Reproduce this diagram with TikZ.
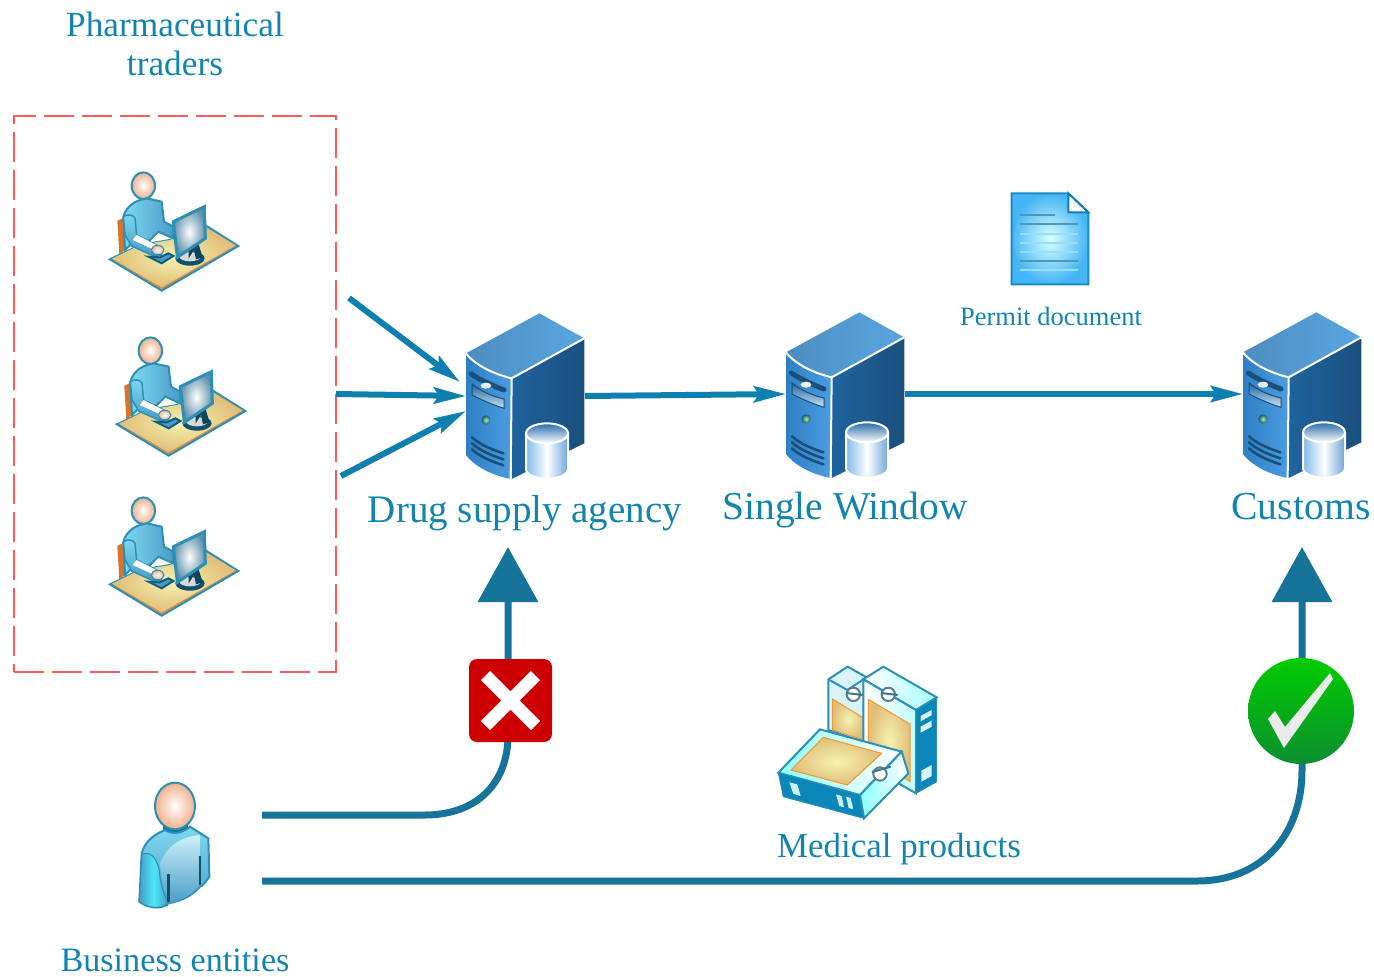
\documentclass[tikz,border=0pt]{standalone}
\usepackage{fontspec}
\setmainfont{Liberation Serif}
\usetikzlibrary{arrows.meta}
\definecolor{txt}{HTML}{1284B0}
\definecolor{flow}{HTML}{0E80B0}
\definecolor{route}{HTML}{16749A}
\definecolor{edge}{HTML}{2C8FB5}
\definecolor{svtop}{HTML}{5AA6E2}
\definecolor{svfrontA}{HTML}{2F7FC6}
\definecolor{svfrontB}{HTML}{4C9CE0}
\definecolor{svsideA}{HTML}{1F639E}
\definecolor{svsideB}{HTML}{1A4F7C}
\definecolor{skin}{HTML}{F0B08C}
\definecolor{tan}{HTML}{F6F2B0}
\definecolor{tanB}{HTML}{E0BE78}
\definecolor{shirt}{HTML}{7FD8F0}
\definecolor{shirtB}{HTML}{4A9CC8}
\definecolor{boxblue}{HTML}{0A86B8}
\definecolor{docblue}{HTML}{45B5F5}
\definecolor{chair}{HTML}{D9752B}
\definecolor{greenA}{HTML}{00CC00}
\definecolor{greenB}{HTML}{0C8F30}
\tikzset{
  x=1pt,y=-1pt,
  lbl/.style={text=txt,inner sep=0pt,align=center,font=\fontsize{#1}{39}\selectfont},
  slot/.style={inner sep=0pt,outer sep=0pt},
  flowline/.style={draw=flow,line width=6pt,-{Stealth[length=32pt,width=16pt,inset=5pt]}},
  routeline/.style={draw=route,line width=7pt,-{Triangle[length=55pt,width=59pt]}},
  serverpic/.pic={
    \begin{scope}[scale=1/3]
      \shade[left color=svtop!85!black,right color=svtop] (48,160) -- (268,40) -- (403,115) -- (185,235) .. controls (130,222) and (75,195) .. cycle;
      \shade[left color=svsideA,right color=svsideB] (185,235) -- (403,115) -- (403,430) -- (185,537) -- cycle;
      \shade[left color=svfrontA,right color=svfrontB] (48,160) .. controls (75,195) and (130,222) .. (185,235) -- (182,537) .. controls (120,525) and (70,495) .. (48,465) -- cycle;
      \draw[white,line width=2pt] (48,160) .. controls (75,195) and (130,222) .. (185,235) -- (403,115);
      \draw[white,line width=2pt] (185,235) -- (182,537);
      \draw[svsideB,line width=5pt,line cap=round] (64,222) .. controls (90,240) and (130,258) .. (162,270);
      \fill[white!85!svtop] (108,257) ellipse [x radius=16,y radius=9];
      \shade[top color=svsideA,bottom color=white!70!svtop,draw=svsideB,line width=1pt] (66,252) .. controls (95,275) and (130,290) .. (162,297) -- (162,325) .. controls (130,315) and (95,300) .. (66,285) -- cycle;
      \shade[inner color=white!60!green,outer color=svsideB] (108,360) circle (14);
      \draw[svsideB,line width=2.6pt,line cap=round] (66,412) .. controls (90,435) and (130,450) .. (160,460);
      \draw[svsideB,line width=2.6pt,line cap=round] (66,430) .. controls (90,453) and (130,468) .. (160,478);
      \draw[svsideB,line width=2.6pt,line cap=round] (66,448) .. controls (90,471) and (130,486) .. (160,496);
      \shade[left color=svfrontB!70!white,right color=svfrontA!70!white,middle color=white,draw=white,line width=2pt] (228,400) -- (228,510) .. controls (240,545) and (342,545) .. (354,510) -- (354,400) -- cycle;
      \shade[top color=svfrontA!85!black,bottom color=white,draw=white,line width=2pt] (291,400) ellipse [x radius=63,y radius=30];
    \end{scope}
  },
  workerpic/.pic={
    \begin{scope}[scale=1/3]
      \fill[chair] (82,182) -- (105,172) -- (112,262) -- (88,285) -- cycle;
      \draw[edge,line width=2pt,fill=chair!70!tanB] (60,298) -- (215,392) -- (445,258) -- (345,195) -- (240,240) -- (150,255) -- cycle;
      \shade[inner color=tan,outer color=tanB] (66,296) -- (215,382) -- (437,256) -- (345,200) -- (240,240) -- (150,255) -- cycle;
      \shade[left color=shirt,right color=shirtB,draw=edge,line width=2pt] (100,170) .. controls (110,135) and (140,120) .. (170,115) -- (215,125) -- (222,185) -- (250,200) -- (250,235) -- (205,215) -- (180,240) -- (125,250) -- (105,270) -- cycle;
      \shade[top color=shirt,bottom color=shirtB,draw=edge,line width=1.5pt] (100,170) .. controls (115,160) and (130,165) .. (135,175) -- (140,225) -- (205,258) -- (215,285) -- (185,285) -- (125,258) -- (105,225) -- cycle;
      \fill[white] (140,225) -- (205,258) -- (198,272) -- (128,240) -- cycle;
      \draw[route!80!black,line width=2pt,fill=shirtB] (175,290) -- (215,310) -- (250,288) -- (235,280) -- (210,292) -- cycle;
      \shade[inner color=white,outer color=skin,draw=edge,line width=1pt] (203,270) ellipse [x radius=19,y radius=14];
      \shade[inner color=white,outer color=skin,draw=edge,line width=2pt] (160,77) ellipse [x radius=35,y radius=40];
      \fill[route!70!black] (300,295) ellipse [x radius=44,y radius=22];
      \fill[white!70!gray] (300,290) ellipse [x radius=32,y radius=14];
      \fill[route!60!black] (296,235) -- (318,228) -- (338,292) -- (318,298) -- (312,270) -- (296,295) -- cycle;
      \shade[inner color=white,outer color=shirtB!60!gray,draw=edge,line width=3pt] (250,185) -- (343,140) -- (346,235) -- (262,292) -- cycle;
    \end{scope}
  },
  personpic/.pic={
    \begin{scope}[scale=1/3]
      \fill[route] (160,155) rectangle (235,195);
      \shade[top color=shirt,bottom color=shirtB,draw=edge,line width=2pt] (95,250) .. controls (105,210) and (140,190) .. (165,180) .. controls (190,195) and (215,190) .. (240,170) -- (295,205) -- (298,320) .. controls (285,340) and (275,350) .. (270,350) .. controls (240,385) and (200,395) .. (175,400) .. controls (165,415) and (120,420) .. (88,395) -- cycle;
      \shade[top color=shirt!40!white,bottom color=shirtB] (150,280) .. controls (170,230) and (210,200) .. (270,195) -- (270,345) .. controls (240,385) and (200,395) .. (170,400) -- cycle;
      \shade[left color=shirtB,right color=shirtB,middle color=shirt!60!cyan,draw=edge,line width=1pt] (95,255) .. controls (115,240) and (140,260) .. (148,300) .. controls (150,340) and (160,370) .. (175,398) .. controls (160,415) and (120,420) .. (88,395) -- cycle;
      \draw[route!70!black,line width=2.5pt] (175,312) -- (175,395) (270,258) -- (270,345);
      \shade[inner color=white,outer color=skin,draw=edge,line width=2pt] (195,108) ellipse [x radius=60,y radius=70];
    \end{scope}
  },
  docpic/.pic={
    \begin{scope}[scale=1/3]
      \shade[inner color=white!85!cyan,outer color=docblue,draw=flow!80!docblue,line width=2pt] (35,25) -- (205,25) -- (265,82) -- (265,298) -- (35,298) -- cycle;
      \fill[white] (205,25) -- (265,82) -- (205,82) -- cycle;
      \draw[flow,line width=2pt] (205,25) -- (265,82) -- (205,82) -- cycle;
      \draw[route!75!white,line width=2pt] (60,90) -- (165,90) (60,118) -- (235,118) (60,228) -- (235,228);
      \draw[cyan!40!white,line width=2pt] (60,146) -- (235,146) (60,175) -- (235,175) (60,202) -- (235,202) (60,256) -- (235,256);
    \end{scope}
  },
  boxpic/.pic={
    \begin{scope}[scale=1/3]
      \fill[cyan!15!white,draw=edge,line width=2pt] (205,88) -- (263,50) -- (320,82) -- (320,280) -- (205,240) -- cycle;
      \draw[edge,line width=2pt] (205,88) -- (262,120) -- (320,82);
      \shade[inner color=tan,outer color=tanB,draw=orange!60!tanB,line width=1pt] (218,147) -- (312,205) -- (312,270) -- (218,240) -- cycle;
      \shade[left color=white,right color=cyan!35!white,draw=edge,line width=2pt] (310,88) -- (370,50) -- (530,142) -- (468,180) -- cycle;
      \shade[left color=white,right color=cyan!25!white,draw=edge,line width=2pt] (310,88) -- (468,180) -- (468,430) -- (310,340) -- cycle;
      \shade[inner color=tan,outer color=tanB,draw=orange!60!tanB,line width=1pt] (325,148) -- (450,222) -- (450,395) -- (325,315) -- cycle;
      \fill[boxblue,draw=edge,line width=1pt] (468,180) -- (530,142) -- (530,395) -- (468,430) -- cycle;
      \fill[cyan!15!white] (482,198) -- (515,180) -- (515,195) -- (482,214) -- cycle (482,230) -- (515,212) -- (515,230) -- (482,248) -- cycle (484,362) -- (515,345) -- (515,378) -- (484,395) -- cycle;
      \foreach \lx/\ly in {280/133,385/133}{
        \fill[white,draw=gray!70!route,line width=2pt] (\lx,\ly) ellipse [x radius=20,y radius=20];
        \draw[route!70!gray,line width=2pt] (\lx-22,\ly-4) -- (\lx+28,\ly+2);
      }
      \shade[left color=cyan!45!white,right color=white,draw=edge,line width=2pt] (55,368) -- (180,238) -- (425,305) -- (300,435) -- cycle;
      \shade[inner color=tan,outer color=tanB,draw=orange!60!tanB,line width=1pt] (93,360) -- (190,262) -- (365,310) -- (262,405) -- cycle;
      \fill[boxblue,draw=edge,line width=1pt] (55,368) -- (300,435) -- (312,505) -- (70,440) -- cycle;
      \fill[cyan!20!white] (88,397) -- (112,403) -- (122,438) -- (100,432) -- cycle (228,433) -- (245,438) -- (252,472) -- (238,468) -- cycle (258,440) -- (272,444) -- (280,478) -- (266,474) -- cycle;
      \shade[left color=cyan!45!white,right color=white,draw=edge,line width=2pt] (300,435) -- (425,305) -- (445,370) -- (312,505) -- cycle;
      \fill[white,draw=gray!70!route,line width=2pt] (360,372) ellipse [x radius=20,y radius=20];
      \draw[route!70!gray,line width=2pt] (336,366) -- (392,350);
    \end{scope}
  }
}
\begin{document}
\begin{tikzpicture}
\useasboundingbox (0,0) rectangle (1374,977);
% labels
\node[lbl=35.3] (ltraders) at (175,44) {Pharmaceutical\\traders};
\node[lbl=39] (lagency) at (525,513) {Drug supply agency};
\node[lbl=39.5] (lwindow) at (845,510) {Single Window};
\node[lbl=39.7] (lcustoms) at (1301,507) {Customs};
\node[lbl=26.5] (lpermit) at (1051,316) {Permit document};
\node[lbl=35] (lmedical) at (899,849) {Medical products};
\node[lbl=34.2] (lbusiness) at (175,960) {Business entities};
% group
\node[slot,draw=red!65!white,line width=1.6pt,dash pattern=on 30pt off 8pt,minimum width=322pt,minimum height=556pt] (traders) at (175,394) {};
% workers
\pic at (90,160) {workerpic};
\pic at (97,325) {workerpic};
\pic at (90,485) {workerpic};
% servers
\node[slot,minimum width=119pt,minimum height=166pt] (agency) at (525.5,396) {};
\node[slot,minimum width=119pt,minimum height=166pt] (window) at (845.5,394) {};
\node[slot,minimum width=119pt,minimum height=166pt] (customs) at (1302.5,394) {};
\pic at (450,300) {serverpic};
\pic at (770,299) {serverpic};
\pic at (1227,299) {serverpic};
% free ends
\coordinate (f1) at (349,298);
\coordinate (t1) at (460,382);
\coordinate (f3) at (341,476);
\coordinate (t3) at (466,411);
\draw[flowline] (f1) -- (t1);
\draw[flowline] (traders.east) -- (agency.west);
\draw[flowline] (f3) -- (t3);
\draw[flowline] (agency.east) -- (window.west);
\draw[flowline] (window.east) -- (customs.west);
% document and boxes
\node[slot,minimum width=78pt,minimum height=92pt] (doc) at (1050,239) {};
\pic at (1000,185) {docpic};
\node[slot,minimum width=160pt,minimum height=150pt] (products) at (858,743) {};
\pic at (760,650) {boxpic};
% person
\node[slot,minimum width=174pt,minimum height=130pt] (person) at (175,846) {};
\pic at (110,770) {personpic};
% routes
\coordinate (r1a) at (262,815);
\coordinate (r1b) at (425,815);
\coordinate (r1c) at (508,735);
\coordinate (r1d) at (508,547);
\coordinate (r2a) at (262,881);
\coordinate (r2b) at (1197,881);
\coordinate (r2c) at (1302,770);
\coordinate (r2d) at (1302,547);
\draw[routeline] (r1a) -- (r1b) .. controls (475,815) and (508,785) .. (r1c) -- (r1d);
\draw[routeline] (r2a) -- (r2b) .. controls (1262,881) and (1302,835) .. (r2c) -- (r2d);
% cross
\node[slot,draw=none,fill=red!80!black,rounded corners=8pt,minimum size=83pt] (cross) at (510.5,700.5) {};
\draw[white,line width=13pt] (cross.center) ++(-25,-25) -- ++(50,50) ++(-50,0) -- ++(50,-50);
% check
\node[slot,circle,top color=greenA,bottom color=greenB,minimum size=106pt] (check) at (1301,711) {};
\fill[white!92!black] (1268,719) -- (1275,711) -- (1285,727) -- (1330,673) -- (1333,679) -- (1284,748) -- cycle;
\end{tikzpicture}
\end{document}
